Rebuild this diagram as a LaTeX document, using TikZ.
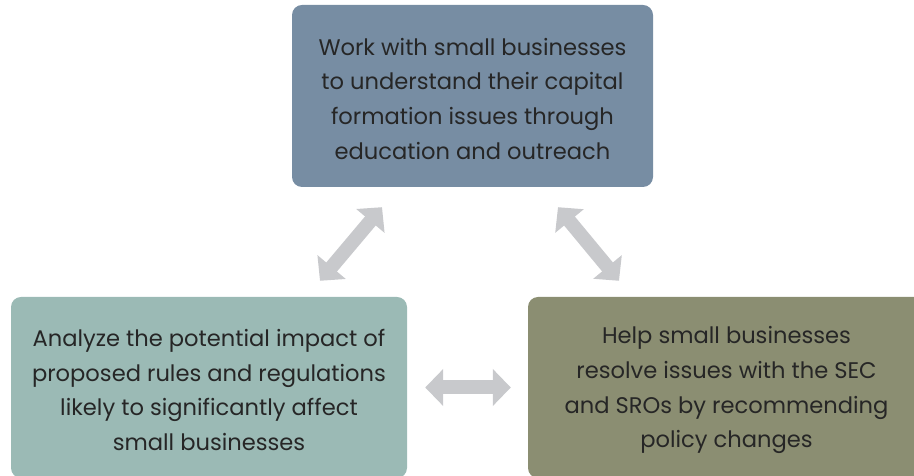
\documentclass[tikz,border=0pt]{standalone}
\usepackage{fontspec}
\setmainfont{Poppins}
\usetikzlibrary{arrows.meta}
\definecolor{workblue}{RGB}{119,141,163}
\definecolor{analyzegreen}{RGB}{155,186,181}
\definecolor{helpolive}{RGB}{139,142,114}
\definecolor{arrowgray}{RGB}{200,201,204}
\definecolor{textgray}{RGB}{38,38,38}
\newcommand\boxstrut{\rule{0pt}{22.5pt}}

\begin{document}
\begin{tikzpicture}[x=1pt,y=1pt]

        \useasboundingbox (0,0) rectangle (914,476);
        \clip (0,0) rectangle (914,476);

        \begin{scope}[every node/.style={rectangle,rounded corners=10pt,text=textgray,align=center,inner sep=0pt,font=\fontsize{22.6}{34.7}\selectfont}]
          \node[fill=workblue,minimum width=361pt,minimum height=182pt] (work) at (472.5,380)
            {\boxstrut Work with small businesses\\to understand their capital\\formation issues through\\education and outreach};
          \node[fill=analyzegreen,minimum width=396pt,minimum height=181pt] (analyze) at (209,88.5)
            {\boxstrut Analyze the potential impact of\\proposed rules and regulations\\likely to significantly affect\\small businesses};
          \node[fill=helpolive,minimum width=397pt,minimum height=181pt] (help) at (726.5,88.5)
            {\boxstrut Help small businesses\\resolve issues with the SEC\\and SROs by recommending\\policy changes};
        \end{scope}

        \begin{scope}[every edge/.style={draw=arrowgray,line width=14pt,<->,>={Triangle[length=18pt,width=36pt]}}]
          \path ([xshift=111pt,yshift=16pt]analyze.north) edge ([xshift=-90.5pt,yshift=-20pt]work.south);
          \path ([xshift=85.5pt,yshift=-20pt]work.south) edge ([xshift=-107.5pt,yshift=16pt]help.north);
          \path ([xshift=18pt]analyze.east) edge ([xshift=-17pt]help.west);
        \end{scope}

      \end{tikzpicture}
\end{document}
